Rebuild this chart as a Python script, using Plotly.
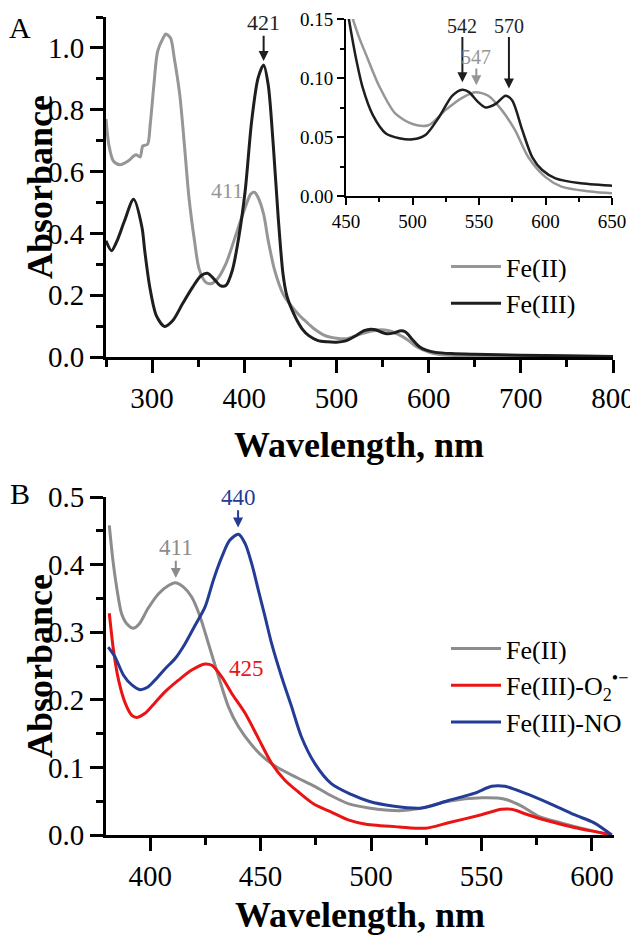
import plotly.graph_objects as go

FONT = "Liberation Serif, Times New Roman, serif"
GRAY_A = "rgb(150,150,150)"
BLACK_A = "rgb(30,30,30)"
GRAY_B = "rgb(140,140,140)"
RED_B = "rgb(235,20,20)"
BLUE_B = "rgb(35,60,150)"

# Panel A: Fe(II) and Fe(III) spectra (main plot + inset use the same data)
wl_a_fe2 = [250, 253, 258, 265, 274, 280, 283, 287, 290, 295, 298, 302, 306, 312, 315,
            320, 324, 330, 335, 340, 346, 351, 358, 364, 371, 380, 390, 401, 407, 411,
            415, 421, 426, 433, 442, 446, 451, 456, 461, 465, 470, 475, 487, 500, 512,
            525, 537, 547, 557, 567, 577, 587, 600, 612, 632, 650, 700, 750, 800]
abs_a_fe2 = [0.770, 0.688, 0.634, 0.622, 0.634, 0.650, 0.654, 0.647, 0.683, 0.688, 0.753,
             0.882, 0.989, 1.032, 1.045, 1.032, 0.968, 0.849, 0.688, 0.516, 0.376, 0.285,
             0.242, 0.237, 0.253, 0.301, 0.387, 0.484, 0.527, 0.533, 0.516, 0.462, 0.376,
             0.280, 0.204, 0.185, 0.165, 0.147, 0.131, 0.120, 0.106, 0.093, 0.070, 0.061,
             0.060, 0.073, 0.083, 0.088, 0.085, 0.073, 0.056, 0.033, 0.016, 0.008, 0.004,
             0.0023, 0.0012, 0.0006, 0.0002]

wl_a_fe3 = [250, 256, 262, 270, 280, 289, 292, 297.5, 304.6, 313.6, 322.5, 333, 344, 353,
            360, 367, 374, 380, 387, 394, 401, 408, 415, 421, 426, 431.4, 436.8, 442, 446,
            450, 454, 458, 462.5, 470, 480, 490, 500, 510, 520, 530, 537.5, 542.5, 549, 555,
            562.5, 570, 575, 582.5, 590, 597.5, 607.5, 625, 650, 700, 750, 800]
abs_a_fe3 = [0.376, 0.344, 0.376, 0.440, 0.510, 0.420, 0.344, 0.226, 0.134, 0.099, 0.118,
             0.172, 0.226, 0.263, 0.271, 0.253, 0.231, 0.231, 0.280, 0.387, 0.538, 0.763,
             0.903, 0.945, 0.880, 0.688, 0.452, 0.269, 0.200, 0.165, 0.138, 0.114, 0.092,
             0.069, 0.053, 0.049, 0.048, 0.052, 0.067, 0.085, 0.090, 0.088, 0.080, 0.075,
             0.078, 0.085, 0.081, 0.056, 0.033, 0.022, 0.015, 0.011, 0.0087, 0.006, 0.004,
             0.002]

# Panel B: Fe(II), Fe(III)-O2 superoxide, Fe(III)-NO
wl_b_fe2 = [381.5, 383, 384.8, 387, 389.3, 392.5, 395, 399, 403.8, 408.3, 411.3, 415, 418.8,
            422.6, 426.4, 431, 435.4, 440, 446, 452, 458, 467, 474.5, 482, 490, 499,
            512.7, 521.7, 535, 550, 560.6, 568, 575.6, 586, 598, 609]
abs_b_fe2 = [0.458, 0.410, 0.367, 0.328, 0.313, 0.306, 0.312, 0.335, 0.357, 0.369, 0.373,
             0.367, 0.352, 0.323, 0.283, 0.234, 0.190, 0.160, 0.133, 0.113, 0.099, 0.084,
             0.072, 0.058, 0.046, 0.040, 0.036, 0.039, 0.050, 0.055, 0.053, 0.043, 0.028,
             0.018, 0.008, 0.0]

wl_b_o2 = [381.5, 383.4, 385.7, 388.7, 391.7, 394, 397.7, 402, 406.8, 412.8, 418.8, 424.8,
           427.9, 432.4, 437, 443, 449, 455, 461, 467, 474.5, 482, 490, 497.7, 512.7, 524.7,
           535, 550, 559, 563.6, 571, 580, 592, 604, 609]
abs_b_o2 = [0.328, 0.273, 0.229, 0.195, 0.177, 0.174, 0.180, 0.195, 0.212, 0.229, 0.244,
            0.253, 0.251, 0.234, 0.209, 0.180, 0.143, 0.106, 0.081, 0.064, 0.045, 0.034,
            0.022, 0.016, 0.012, 0.010, 0.018, 0.030, 0.038, 0.038, 0.030, 0.021, 0.011,
            0.0034, 0.0]

wl_b_no = [381, 384, 388, 391.7, 395.5, 399, 403, 406.8, 411.3, 415.8, 420.3, 424.8, 428.6,
           432.4, 436, 440, 443, 446, 449, 452, 455, 459.5, 464, 468.5, 474.5, 482, 491,
           499, 509.7, 523, 535, 547, 554.6, 560.6, 569.6, 580, 592, 601, 609]
abs_b_no = [0.278, 0.264, 0.236, 0.222, 0.215, 0.219, 0.232, 0.246, 0.261, 0.283, 0.310,
            0.337, 0.377, 0.411, 0.436, 0.445, 0.431, 0.401, 0.362, 0.323, 0.283, 0.234,
            0.190, 0.145, 0.106, 0.076, 0.060, 0.050, 0.043, 0.040, 0.051, 0.062, 0.072,
            0.072, 0.062, 0.048, 0.030, 0.018, 0.0]

fig = go.Figure()

spl = dict(shape="spline", smoothing=0.8)
# main panel A
fig.add_trace(go.Scatter(x=wl_a_fe2, y=abs_a_fe2, mode="lines", name="Fe(II)",
                         line=dict(color=GRAY_A, width=3, **spl),
                         xaxis="x", yaxis="y", legend="legend"))
fig.add_trace(go.Scatter(x=wl_a_fe3, y=abs_a_fe3, mode="lines", name="Fe(III)",
                         line=dict(color=BLACK_A, width=3, **spl),
                         xaxis="x", yaxis="y", legend="legend"))
# inset
fig.add_trace(go.Scatter(x=wl_a_fe2, y=abs_a_fe2, mode="lines", showlegend=False,
                         line=dict(color=GRAY_A, width=2.5, **spl), xaxis="x2", yaxis="y2"))
fig.add_trace(go.Scatter(x=wl_a_fe3, y=abs_a_fe3, mode="lines", showlegend=False,
                         line=dict(color=BLACK_A, width=2.5, **spl), xaxis="x2", yaxis="y2"))
# panel B
fig.add_trace(go.Scatter(x=wl_b_fe2, y=abs_b_fe2, mode="lines", name="Fe(II)",
                         line=dict(color=GRAY_B, width=3, **spl),
                         xaxis="x3", yaxis="y3", legend="legend2"))
fig.add_trace(go.Scatter(x=wl_b_o2, y=abs_b_o2, mode="lines",
                         name="Fe(III)-O<sub>2</sub><sup>•−</sup>",
                         line=dict(color=RED_B, width=3, **spl),
                         xaxis="x3", yaxis="y3", legend="legend2"))
fig.add_trace(go.Scatter(x=wl_b_no, y=abs_b_no, mode="lines", name="Fe(III)-NO",
                         line=dict(color=BLUE_B, width=3, **spl),
                         xaxis="x3", yaxis="y3", legend="legend2"))


def ax_style(size, lw, tlen, mlen, vals, minor_vals, fmt=None):
    d = dict(showline=True, linecolor="black", linewidth=lw, ticks="outside",
             ticklen=tlen, tickwidth=lw, tickcolor="black", showgrid=False,
             zeroline=False, automargin=False, tickvals=vals,
             tickfont=dict(family=FONT, size=size, color="black"),
             minor=dict(tickvals=minor_vals, ticks="outside", ticklen=mlen,
                        tickwidth=lw, tickcolor="black", showgrid=False))
    if fmt:
        d["tickformat"] = fmt
    return d


# the page body keeps its 8px margin, so the figure is shrunk to fit the
# window without scrollbars and all page positions are shifted by 8px
OFF = 8
W, H = 630, 932


def px_x(a, b):
    return [(a - OFF) / W, (b - OFF) / W]


def px_y(top, bottom):
    return [(H - (bottom - OFF)) / H, (H - (top - OFF)) / H]


def pp(x, y):
    return (x - OFF) / W, (H - (y - OFF)) / H


xa = ax_style(29, 3, 13, 7, [300, 400, 500, 600, 700, 800], [250, 350, 450, 550, 650, 750])
xa.update(domain=px_x(106, 613), range=[250, 800], anchor="y")
ya = ax_style(29, 3, 13, 7, [0, 0.2, 0.4, 0.6, 0.8, 1.0], [0.1, 0.3, 0.5, 0.7, 0.9, 1.1], ".1f")
ya.update(domain=px_y(17, 357), range=[0, 1.1], anchor="x")

xa2 = ax_style(19, 2, 7, 4, [450, 500, 550, 600, 650], [475, 525, 575, 625])
xa2.update(domain=px_x(346, 612), range=[450, 650], anchor="y2")
ya2 = ax_style(19, 2, 7, 4, [0, 0.05, 0.10, 0.15], [0.025, 0.075, 0.125], ".2f")
ya2.update(domain=px_y(19, 196), range=[0, 0.15], anchor="x2")

xa3 = ax_style(29, 3, 13, 7, [400, 450, 500, 550, 600], [425, 475, 525, 575])
xa3.update(domain=px_x(106, 614), range=[380, 610], anchor="y3")
ya3 = ax_style(29, 3, 13, 7, [0, 0.1, 0.2, 0.3, 0.4, 0.5],
               [0.05, 0.15, 0.25, 0.35, 0.45], ".1f")
ya3.update(domain=px_y(497, 835), range=[0, 0.5], anchor="x3")

legend_common = dict(xanchor="left", yanchor="top", bgcolor="rgba(0,0,0,0)",
                     font=dict(family=FONT, size=26, color="black"), itemwidth=50,
                     tracegroupgap=0)
lx, ly_a = pp(446, 243)
_, ly_b = pp(446, 625)

fig.update_layout(
    width=W, height=H, margin=dict(l=0, r=0, t=0, b=0),
    paper_bgcolor="white", plot_bgcolor="rgba(0,0,0,0)",
    font=dict(family=FONT, color="black"),
    xaxis=xa, yaxis=ya, xaxis2=xa2, yaxis2=ya2, xaxis3=xa3, yaxis3=ya3,
    legend=dict(x=lx, y=ly_a, **legend_common),
    legend2=dict(x=lx, y=ly_b, **legend_common),
)

# peak labels with arrows: text sits at the arrow tail, head points at the peak
peak_marks = [
    # xref, yref, x, text_y, tip_y, label, color, size
    ("x", "y", 421, 1.081, 0.958, "421", BLACK_A, 22),
    ("x2", "y2", 537.5, 0.1444, 0.0963, "542", BLACK_A, 20),
    ("x2", "y2", 572.5, 0.1444, 0.0912, "570", BLACK_A, 20),
    ("x2", "y2", 548.0, 0.1177, 0.0938, "547", GRAY_A, 20),
    ("x3", "y3", 439.8, 0.4997, 0.455, "440", BLUE_B, 23),
    ("x3", "y3", 411.6, 0.425, 0.380, "411", GRAY_B, 23),
]
for xr, yr, x, ty, hy, t, c, s in peak_marks:
    fig.add_annotation(x=x, y=hy, ax=x, ay=ty, xref=xr, yref=yr, axref=xr, ayref=yr,
                       text=t, showarrow=True, arrowhead=2, arrowsize=1,
                       arrowwidth=2, arrowcolor=c, borderpad=0,
                       font=dict(family=FONT, size=s, color=c))

labels = [
    ("x", "y", 381.6, 0.54, "411", GRAY_A, 22),
    ("x3", "y3", 443.6, 0.246, "425", RED_B, 23),
]
for xr, yr, x, y, t, c, s in labels:
    fig.add_annotation(x=x, y=y, xref=xr, yref=yr, text=t, showarrow=False,
                       font=dict(family=FONT, size=s, color=c))

# texts placed on the page: panel letters and axis titles
paper_texts = [
    (20, 27, "A", 30, 0, False),
    (20, 493, "B", 30, 0, False),
    (40, 187, "Absorbance", 36, -90, True),
    (40, 666, "Absorbance", 36, -90, True),
    (359, 445, "Wavelength, nm", 36, 0, True),
    (360, 915, "Wavelength, nm", 36, 0, True),
]
for x, y, t, s, ang, bold in paper_texts:
    px, py = pp(x, y)
    fig.add_annotation(x=px, y=py, xref="paper", yref="paper", xanchor="center",
                       yanchor="middle", text=f"<b>{t}</b>" if bold else t,
                       textangle=ang, showarrow=False,
                       font=dict(family=FONT, size=s, color="black"))

fig.write_html("out.html")
